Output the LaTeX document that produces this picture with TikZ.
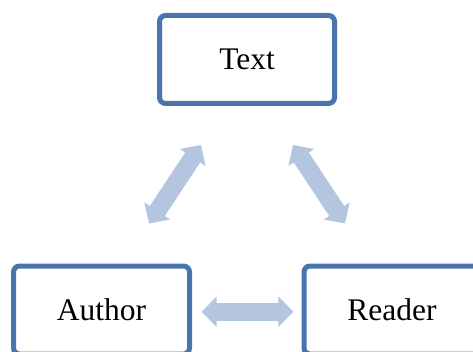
\documentclass[tikz,border=0pt]{standalone}
\usepackage{fontspec}
\setmainfont{Liberation Serif}
\usetikzlibrary{arrows.meta}
\definecolor{boxblue}{HTML}{4A75AC}
\definecolor{arrowblue}{HTML}{B4C5E0}
\tikzset{
  box/.style={draw=boxblue, line width=3.75pt, rounded corners=4.5pt, fill=white,
    minimum width=132pt, minimum height=66pt, inner sep=0pt, outer sep=0pt,
    font=\fontsize{23.6}{28}\selectfont, text=black},
  fatarrow/.style={draw=arrowblue, line width=13.5pt,
    {Triangle[length=11.25pt,width=22.5pt]}-{Triangle[length=11.25pt,width=22.5pt]}}
}
\begin{document}
\begin{tikzpicture}[x=0.75pt, y=-0.75pt]
\useasboundingbox (0,0) rectangle (473,352);
\fill[white] (0,0) rectangle (473,352);
\clip (0,0) rectangle (473,352);
\node[box, minimum width=131.25pt] (text) at (247,59.5) {Text};
\node[box] (author) at (101.5,310) {Author};
\node[box] (reader) at (392,310) {Reader};
\coordinate (ta) at (201,145);
\coordinate (at) at (149,223.5);
\coordinate (tr) at (293,145);
\coordinate (rt) at (345,223.5);
\draw[fatarrow] (ta) -- (at);
\draw[fatarrow] (tr) -- (rt);
\draw[fatarrow, shorten <=9.15pt, shorten >=8pt] ([yshift=-1.3pt]author.east) -- ([yshift=-1.3pt]reader.west);
\end{tikzpicture}
\end{document}
